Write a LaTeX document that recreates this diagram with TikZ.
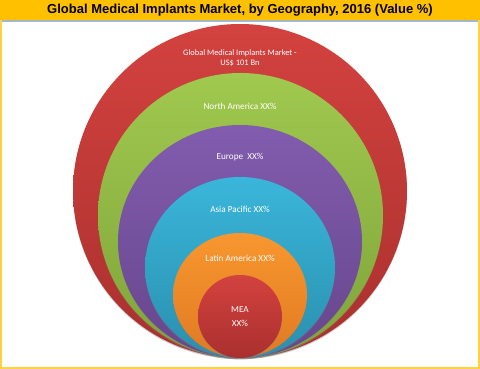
\documentclass[tikz,border=0pt]{standalone}
\usepackage{fontspec}
\setmainfont{Carlito}
\newfontfamily\titlefont{Liberation Sans}
\usetikzlibrary{shapes.geometric,shadows}
\definecolor{titlebar}{HTML}{FFC000}
\definecolor{frameyel}{HTML}{FFD33F}
\definecolor{sepline}{HTML}{A3B7CF}
\definecolor{redtop}{HTML}{D3423F}
\definecolor{redbot}{HTML}{A9302E}
\definecolor{greentop}{HTML}{A0C94F}
\definecolor{greenbot}{HTML}{7FA33A}
\definecolor{purptop}{HTML}{825CAE}
\definecolor{purpbot}{HTML}{66468C}
\definecolor{bluetop}{HTML}{3AB6DA}
\definecolor{bluebot}{HTML}{2A8FAE}
\definecolor{orgtop}{HTML}{F8972F}
\definecolor{orgbot}{HTML}{E07A22}
\tikzset{
  ring/.style={ellipse, draw=none, inner sep=0pt, outer sep=0pt,
    drop shadow={shadow xshift=0pt, shadow yshift=-1.2pt, opacity=0.4}},
  lbl/.style={text=white, font=\fontsize{9.2}{14}\selectfont, align=center, inner sep=0pt},
}
\begin{document}
\begin{tikzpicture}[x=1pt,y=1pt]
\useasboundingbox (0,0) rectangle (480,369);
\fill[white] (0,0) rectangle (480,369);
% circles
\node[ring, minimum width=334pt, minimum height=334pt, top color=redtop, bottom color=redbot] (outer) at (240,178) {};
\node[ring, minimum width=285pt, minimum height=285pt, top color=greentop, bottom color=greenbot] (na) at (240.5,153.5) {};
\node[ring, minimum width=244pt, minimum height=233pt, top color=purptop, bottom color=purpbot] (eu) at (240,127.5) {};
\node[ring, minimum width=190pt, minimum height=181pt, top color=bluetop, bottom color=bluebot] (ap) at (240,101.5) {};
\node[ring, minimum width=134pt, minimum height=124pt, top color=orgtop, bottom color=orgbot] (la) at (240,74) {};
\node[ring, minimum width=84pt, minimum height=83pt, top color=redtop, bottom color=redbot] (mea) at (240,52.5) {};
% labels
\node[lbl, font=\fontsize{8.4}{10}\selectfont] (tglobal) at (240,311) {Global Medical Implants Market -\\US\$ 101 Bn};
\node[lbl] (tna) at (240,263) {North America XX\%};
\node[lbl] (teu) at (240,212) {Europe\ \ XX\%};
\node[lbl] (tap) at (240,160) {Asia Pacific XX\%};
\node[lbl] (tla) at (240,111) {Latin America XX\%};
\node[lbl] (tmea) at (240,52) {MEA\\XX\%};
% frame and title
\draw[frameyel, line width=2pt] (1,369) -- (1,1) -- (479,1) -- (479,369);
\fill[titlebar] (0,349) rectangle (480,369);
\draw[sepline, line width=1.5pt] (2,347.8) -- (478,347.8);
\node[text=black, inner sep=0pt] (title) at (240,358.5) {\titlefont\bfseries\fontsize{13}{15}\selectfont Global Medical Implants Market, by Geography, 2016 (Value \%)};
\end{tikzpicture}
\end{document}
